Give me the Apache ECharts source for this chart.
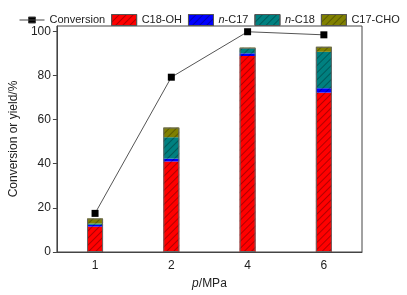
<!DOCTYPE html>
<html>
<head>
<meta charset="utf-8">
<script src="https://cdn.jsdelivr.net/npm/echarts@6/dist/echarts.min.js"></script>
<style>
html, body { margin: 0; padding: 0; background: #fff; }
#main { width: 407px; height: 295px; }
</style>
</head>
<body>
<div id="main"></div>
<script>
var pressures = ['1', '2', '4', '6'];
var conversion = [17.5, 79.2, 99.8, 98.4];
var c18oh = [11.5, 41.0, 88.8, 72.2];
var nc17 = [0.8, 1.3, 1.2, 2.0];
var nc18 = [0.6, 9.7, 2.3, 16.5];
var c17cho = [2.3, 4.4, 0.3, 2.3];
var yTicks = [0, 20, 40, 60, 80, 100];

// total height of each stack, only used to draw the outline of the bar
var totals = c18oh.map(function (v, i) {
    return +(v + nc17[i] + nc18[i] + c17cho[i]).toFixed(2);
});

var FONT = 'Liberation Sans';
var chart = echarts.init(document.getElementById('main'));

function hatch() {
    return {
        symbol: 'rect',
        symbolSize: 1,
        dashArrayX: [[1, 0]],
        dashArrayY: [1, 4],
        rotation: -Math.PI / 4,
        color: 'rgba(0,0,0,0.3)'
    };
}

function barSeries(name, data, color) {
    return {
        name: name,
        type: 'bar',
        stack: 'yield',
        barWidth: 16,
        data: data,
        itemStyle: {
            color: color,
            borderWidth: 0,
            decal: hatch()
        }
    };
}

var legendBox = { borderColor: '#555', borderWidth: 1 };

option = {
    animation: false,
    textStyle: { fontFamily: FONT },
    legend: {
        top: 9,
        left: 14,
        width: 395,
        itemWidth: 25,
        itemHeight: 11,
        itemGap: 6,
        icon: 'rect',
        textStyle: {
            fontFamily: FONT,
            fontSize: 11,
            color: '#222',
            rich: { i: { fontFamily: FONT, fontStyle: 'italic', fontSize: 11, color: '#222' } }
        },
        formatter: function (name) {
            if (name.indexOf('n-') === 0) return '{i|n}-' + name.slice(2);
            return name;
        },
        data: [
            { name: 'Conversion', icon: 'path://M0,5 L25,5 M9,2 L16,2 L16,8 L9,8 Z', itemStyle: { color: '#000', borderColor: '#444', borderWidth: 1 } },
            { name: 'C18-OH', itemStyle: legendBox },
            { name: 'n-C17', itemStyle: legendBox },
            { name: 'n-C18', itemStyle: legendBox },
            { name: 'C17-CHO', itemStyle: legendBox }
        ]
    },
    grid: {
        left: 50,
        right: 45,
        top: 26,
        bottom: 39,
        show: true,
        borderColor: '#444',
        borderWidth: 1
    },
    xAxis: {
        type: 'category',
        data: pressures,
        name: '{i|p}/MPa',
        nameLocation: 'middle',
        nameGap: 26,
        nameTextStyle: {
            fontFamily: FONT, fontSize: 12, color: '#222',
            rich: { i: { fontFamily: FONT, fontStyle: 'italic', fontSize: 12, color: '#222' } }
        },
        axisLine: { lineStyle: { color: '#444', width: 1 } },
        axisTick: { show: false },
        axisLabel: { fontFamily: FONT, fontSize: 12, color: '#222', margin: 8 }
    },
    yAxis: {
        type: 'value',
        min: 0,
        max: 102.4,
        interval: 20,
        name: 'Conversion or yield/%',
        nameLocation: 'middle',
        nameGap: 30,
        nameTextStyle: { fontFamily: FONT, fontSize: 12, color: '#222' },
        axisLine: { show: true, lineStyle: { color: '#444', width: 1 } },
        axisTick: { show: true, length: 4, lineStyle: { color: '#444' } },
        axisLabel: {
            fontFamily: FONT, fontSize: 12, color: '#222', margin: 6,
            showMaxLabel: false,
            formatter: function (v) { return yTicks.indexOf(v) >= 0 ? v : ''; }
        },
        splitLine: { show: false }
    },
    series: [
        {
            name: 'Conversion',
            type: 'line',
            data: conversion,
            z: 5,
            symbol: 'rect',
            symbolSize: 7,
            lineStyle: { color: '#555', width: 1 },
            itemStyle: { color: '#000' }
        },
        barSeries('C18-OH', c18oh, '#ff0000'),
        barSeries('n-C17', nc17, '#0000ff'),
        barSeries('n-C18', nc18, '#008080'),
        barSeries('C17-CHO', c17cho, '#808000'),
        {
            name: 'outline',
            type: 'bar',
            barWidth: 16,
            barGap: '-100%',
            data: totals,
            silent: true,
            z: 4,
            itemStyle: { color: 'rgba(0,0,0,0)', borderColor: '#666', borderWidth: 1 }
        }
    ]
};
chart.setOption(option);
</script>
</body>
</html>
